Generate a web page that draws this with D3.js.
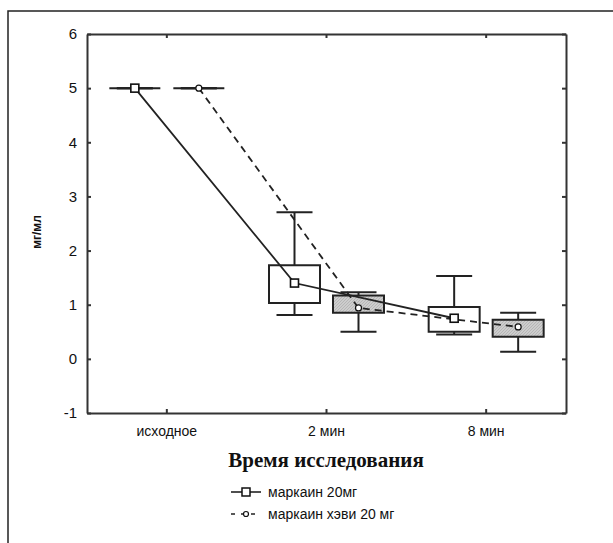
<!DOCTYPE html>
<html><head><meta charset="utf-8">
<script src="https://cdn.jsdelivr.net/npm/d3@7"></script>
<style>body{margin:0;background:#fff}svg{display:block}</style>
</head><body>
<script>
const categories = ["исходное", "2 мин", "8 мин"];
const seriesNames = ["маркаин 20мг", "маркаин хэви 20 мг"];
const yTicks = [-1, 0, 1, 2, 3, 4, 5, 6];
// series 1: маркаин 20мг
const s1Median = [5, 1.40, 0.75];
const s1Q1 = [5, 1.03, 0.50];
const s1Q3 = [5, 1.73, 0.96];
const s1Min = [5, 0.81, 0.45];
const s1Max = [5, 2.71, 1.53];
// series 2: маркаин хэви 20 мг
const s2Median = [5, 0.94, 0.59];
const s2Q1 = [5, 0.85, 0.41];
const s2Q3 = [5, 1.17, 0.72];
const s2Min = [5, 0.50, 0.13];
const s2Max = [5, 1.23, 0.85];

const W = 613, H = 543;
const svg = d3.select("body").append("svg").attr("width", W).attr("height", H);
const defs = svg.append("defs");
const pat = defs.append("pattern").attr("id", "hatch").attr("patternUnits", "userSpaceOnUse")
  .attr("width", 3).attr("height", 3);
pat.append("rect").attr("width", 3).attr("height", 3).attr("fill", "#cdcdcd");
pat.append("path").attr("d", "M0,3 L3,0").attr("stroke", "#b0b0b0").attr("stroke-width", 0.8);

// outer frame
svg.append("path").attr("d", "M8,543 L8,11 L613,11").attr("fill", "none").attr("stroke", "#222").attr("stroke-width", 1.5);

const L = 87, R = 566, T = 34, B = 413;
const x = d3.scaleBand().domain(categories).range([L, R]).padding(0);
const y = d3.scaleLinear().domain([-1, 6]).range([B, T]);
const off = 32, boxW = 51, capW = 36;
const axisColor = "#333";

function styleAxis(g) {
  g.select(".domain").attr("stroke", axisColor).attr("stroke-width", 2);
  g.selectAll(".tick line").attr("stroke", axisColor).attr("stroke-width", 2);
  g.selectAll(".tick text").attr("fill", "#111").style("font-family", "Arial, 'Liberation Sans', sans-serif");
}
svg.append("g").attr("transform", `translate(${L},0)`)
  .call(d3.axisLeft(y).tickValues(yTicks).tickSize(-4).tickSizeOuter(0).tickPadding(10).tickFormat(d => String(d)))
  .call(g => { styleAxis(g); g.selectAll(".tick text").style("font-size", "15px"); });
svg.append("g").attr("transform", `translate(${R},0)`)
  .call(d3.axisRight(y).tickValues(yTicks).tickSize(-4).tickSizeOuter(0).tickFormat(""))
  .call(styleAxis);
svg.append("g").attr("transform", `translate(0,${B})`)
  .call(d3.axisBottom(x).tickSize(-4).tickSizeOuter(0).tickPadding(13))
  .call(g => { styleAxis(g); g.selectAll(".tick text").style("font-size", "14px"); });
svg.append("g").attr("transform", `translate(0,${T})`)
  .call(d3.axisTop(x).tickSize(-4).tickSizeOuter(0).tickFormat(""))
  .call(styleAxis);

const series = [
  {name: seriesNames[0], med: s1Median, q1: s1Q1, q3: s1Q3, mn: s1Min, mx: s1Max, dx: -off, fill: "#fff", dash: null, marker: "square"},
  {name: seriesNames[1], med: s2Median, q1: s2Q1, q3: s2Q3, mn: s2Min, mx: s2Max, dx: off, fill: "url(#hatch)", dash: "7,5", marker: "circle"}
];
const cx = (s, i) => x(categories[i]) + x.bandwidth() / 2 + s.dx;
const plot = svg.append("g");
series.forEach(s => {
  categories.forEach((c, i) => {
    const xc = cx(s, i);
    const g = plot.append("g");
    g.append("line").attr("x1", xc).attr("x2", xc).attr("y1", y(s.mx[i])).attr("y2", y(s.q3[i])).attr("stroke", "#222").attr("stroke-width", 2);
    g.append("line").attr("x1", xc).attr("x2", xc).attr("y1", y(s.q1[i])).attr("y2", y(s.mn[i])).attr("stroke", "#222").attr("stroke-width", 2);
    g.append("line").attr("x1", xc - capW / 2).attr("x2", xc + capW / 2).attr("y1", y(s.mx[i])).attr("y2", y(s.mx[i])).attr("stroke", "#222").attr("stroke-width", 2);
    g.append("line").attr("x1", xc - capW / 2).attr("x2", xc + capW / 2).attr("y1", y(s.mn[i])).attr("y2", y(s.mn[i])).attr("stroke", "#222").attr("stroke-width", 2);
    const x0 = xc - boxW / 2, x1 = xc + boxW / 2, yt = y(s.q3[i]), yb = y(s.q1[i]);
    g.append("path").attr("d", `M${x0},${yt}L${x1},${yt}L${x1},${yb}L${x0},${yb}Z`)
      .attr("fill", s.fill).attr("stroke", "#222").attr("stroke-width", 2);
  });
});
const line = d3.line().x(d => d[0]).y(d => y(d[1]));
series.forEach(s => {
  plot.append("path").datum(s.med.map((v, i) => [cx(s, i), v])).attr("d", line)
    .attr("fill", "none").attr("stroke", "#222").attr("stroke-width", 1.8)
    .attr("stroke-dasharray", s.dash);
});
series.forEach(s => {
  s.med.forEach((v, i) => {
    if (s.marker === "square") {
      plot.append("rect").attr("x", cx(s, i) - 4).attr("y", y(v) - 4).attr("width", 8).attr("height", 8)
        .attr("fill", "#fff").attr("stroke", "#111").attr("stroke-width", 1.6);
    } else {
      plot.append("circle").attr("cx", cx(s, i)).attr("cy", y(v)).attr("r", 3)
        .attr("fill", "#fff").attr("stroke", "#111").attr("stroke-width", 1.2);
    }
  });
});

svg.append("text").attr("transform", "translate(41,232) rotate(-90)").attr("text-anchor", "middle")
  .style("font-family", "Arial, 'Liberation Sans', sans-serif").style("font-size", "12px").style("font-weight", "bold")
  .attr("fill", "#111").text("мг/мл");
svg.append("text").attr("x", 326).attr("y", 467).attr("text-anchor", "middle")
  .style("font-family", "'Liberation Serif', 'Times New Roman', serif").style("font-size", "21px").style("font-weight", "bold")
  .attr("fill", "#111").text("Время исследования");

const leg = svg.append("g");
series.forEach((s, k) => {
  const yy = 492 + k * 22;
  leg.append("line").attr("x1", 231).attr("x2", 261).attr("y1", yy).attr("y2", yy)
    .attr("stroke", "#222").attr("stroke-width", 1.6).attr("stroke-dasharray", s.dash ? "4,6" : null);
  if (s.marker === "square") {
    leg.append("rect").attr("x", 242).attr("y", yy - 4).attr("width", 8).attr("height", 8)
      .attr("fill", "#fff").attr("stroke", "#111").attr("stroke-width", 1.5);
  } else {
    leg.append("circle").attr("cx", 246).attr("cy", yy).attr("r", 2.5)
      .attr("fill", "#fff").attr("stroke", "#111").attr("stroke-width", 1.2);
  }
  leg.append("text").attr("x", 268).attr("y", yy + 5)
    .style("font-family", "Arial, 'Liberation Sans', sans-serif").style("font-size", "14px")
    .attr("fill", "#111").text(s.name);
});
</script>
</body></html>
